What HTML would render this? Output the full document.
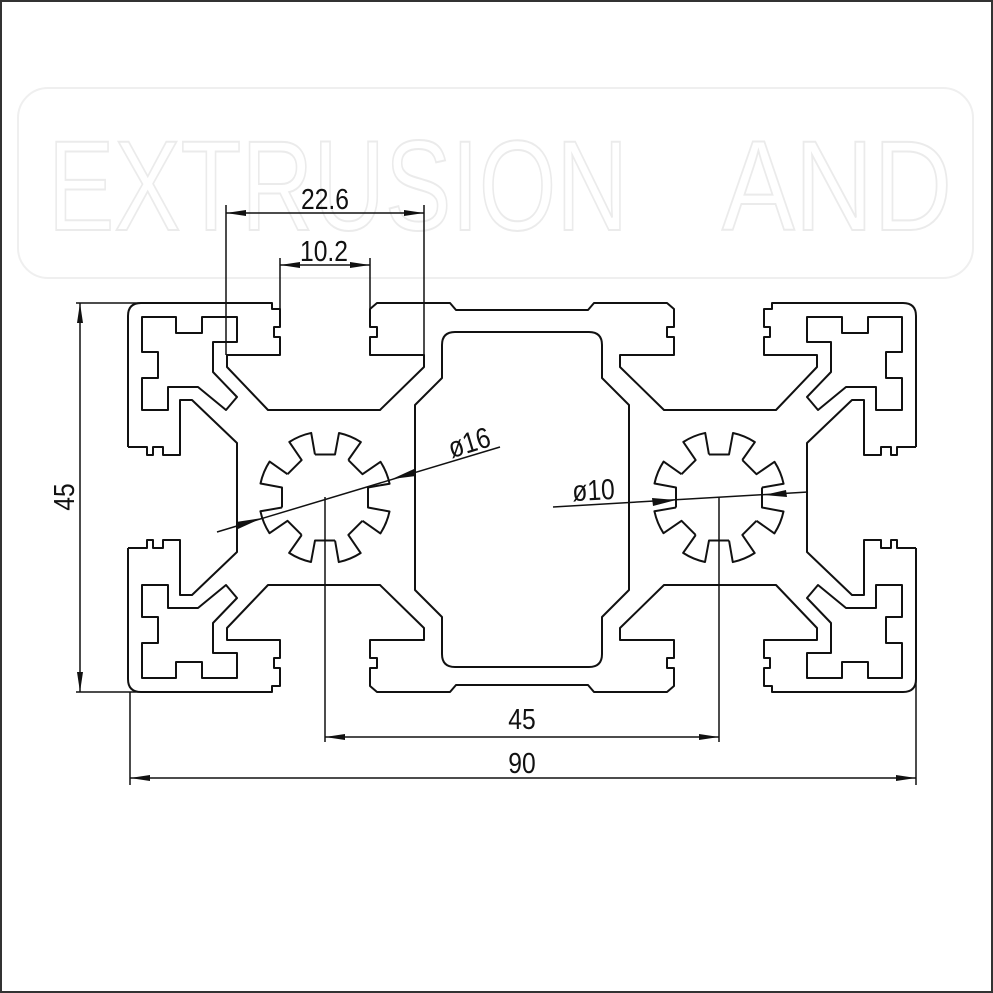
<!DOCTYPE html>
<html><head><meta charset="utf-8"><style>
html,body{margin:0;padding:0;background:#fff}
svg{display:block}
text{font-family:"Liberation Sans Narrow","Liberation Sans",sans-serif;fill:#111}
</style></head><body>
<svg width="993" height="993" viewBox="0 0 993 993" xmlns="http://www.w3.org/2000/svg">
<rect x="0" y="0" width="993" height="993" fill="#fff"/>
<rect x="1" y="1" width="991" height="991" fill="none" stroke="#333" stroke-width="2"/>
<!-- faint watermark -->
<g fill="none" stroke="#efefef" stroke-width="2">
<rect x="18" y="88" width="955" height="190" rx="30"/>
<text x="48" y="230" font-size="128" textLength="580" lengthAdjust="spacingAndGlyphs" style="fill:none;stroke:#ebebeb;stroke-width:2;font-family:'Liberation Sans',sans-serif">EXTRUSION</text>
<text x="722" y="230" font-size="128" textLength="230" lengthAdjust="spacingAndGlyphs" style="fill:none;stroke:#ebebeb;stroke-width:2;font-family:'Liberation Sans',sans-serif">AND</text>
</g>
<defs>
<g id="quad">
<path d="M128,447 L128,316 Q128,303 141,303 L272,303 L272,309 L280,309 L280,327 L274,327 L274,337 L280,337 L280,355 L227,355 L227,367 L268,410 L380,410 L424,367 L424,355 L370,355 L370,337 L377,337 L377,327 L370,327 L370,309 L377,303 L450,303 L456,310 L523,310"/>
<path d="M128,447 L147,447 L147,455 L153,455 L153,447 L163,447 L163,455 L180,455 L180,400 L192,400 L237,443 L237,498"/>
<path d="M142,317 L176,317 L176,333 L202,333 L202,317 L237,317 L237,342 L213,342 L213,372 L237,397 L226,410 L198,387 L168,387 L168,410 L142,410 L142,378 L158,378 L158,352 L142,352 Z"/>
</g>
<g id="half">
<use href="#quad"/>
<use href="#quad" transform="matrix(1,0,0,-1,0,995)"/>
</g>
<g id="seg">
<path d="M43,-10 L43,10 L64.5,14 A66,66 0 0 1 55.4,35.9 L37.5,23.3"/>
</g>
<g id="star">
<use href="#seg"/>
<use href="#seg" transform="rotate(45)"/>
<use href="#seg" transform="rotate(90)"/>
<use href="#seg" transform="rotate(135)"/>
<use href="#seg" transform="rotate(180)"/>
<use href="#seg" transform="rotate(225)"/>
<use href="#seg" transform="rotate(270)"/>
<use href="#seg" transform="rotate(315)"/>
</g>
</defs>
<g fill="none" stroke="#111" stroke-width="2" stroke-linejoin="round">
<use href="#half"/>
<use href="#half" transform="matrix(-1,0,0,1,1044,0)"/>
<path d="M455,332 L589,332 Q602,332 602,345 L602,378 L629,405 L629,590 L602,617 L602,654 Q602,667 589,667 L455,667 Q442,667 442,654 L442,617 L415,590 L415,405 L442,378 L442,345 Q442,332 455,332 Z"/>
<use href="#star" transform="translate(325,497.5)"/>
<use href="#star" transform="translate(719,497.5)"/>
</g>
<!-- dimension lines -->
<g stroke="#111" stroke-width="1.5" fill="none">
<line x1="226" y1="205" x2="226" y2="355"/>
<line x1="424" y1="205" x2="424" y2="355"/>
<line x1="226" y1="213" x2="424" y2="213"/>
<line x1="280" y1="258" x2="280" y2="309"/>
<line x1="370" y1="258" x2="370" y2="309"/>
<line x1="280" y1="265" x2="370" y2="265"/>
<line x1="76" y1="303" x2="141" y2="303"/>
<line x1="76" y1="692" x2="141" y2="692"/>
<line x1="80" y1="303" x2="80" y2="692"/>
<line x1="325" y1="497" x2="325" y2="742"/>
<line x1="719" y1="497" x2="719" y2="742"/>
<line x1="325" y1="737" x2="719" y2="737"/>
<line x1="130" y1="692" x2="130" y2="785"/>
<line x1="916" y1="555" x2="916" y2="785"/>
<line x1="130" y1="778" x2="916" y2="778"/>
<line x1="217" y1="532" x2="500" y2="447"/>
<line x1="553" y1="507" x2="808" y2="492"/>
</g>
<g fill="#111">
<polygon points="226,213 246,210 246,216"/>
<polygon points="424,213 404,210 404,216"/>
<polygon points="280,265 300,262 300,268"/>
<polygon points="370,265 350,262 350,268"/>
<polygon points="80,303 77,323 83,323"/>
<polygon points="80,692 77,672 83,672"/>
<polygon points="325,737 345,734 345,740"/>
<polygon points="719,737 699,734 699,740"/>
<polygon points="130,778 150,775 150,781"/>
<polygon points="916,778 896,775 896,781"/>
<polygon points="262,518 238,529 236,522"/>
<polygon points="392,479 414,469 416,476"/>
<polygon points="676,500 652,498 653,506"/>
<polygon points="764,495 786,490 787,497"/>
</g>
<g font-size="29">
<text transform="translate(325,209) scale(0.85,1)" text-anchor="middle">22.6</text>
<text transform="translate(324,261) scale(0.85,1)" text-anchor="middle">10.2</text>
<text transform="translate(522,729) scale(0.85,1)" text-anchor="middle">45</text>
<text transform="translate(522,773) scale(0.85,1)" text-anchor="middle">90</text>
<text transform="translate(74,497) rotate(-90) scale(0.85,1)" text-anchor="middle">45</text>
<text transform="translate(472,452) rotate(-17) scale(0.85,1)" text-anchor="middle">ø16</text>
<text transform="translate(594,500) rotate(-3) scale(0.85,1)" text-anchor="middle">ø10</text>
</g>
</svg>
</body></html>
